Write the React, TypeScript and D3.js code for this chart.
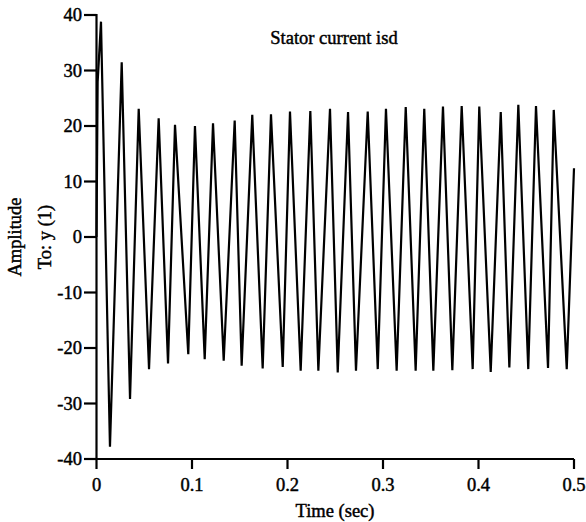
import React from "react";
import * as d3 from "d3";

const peakTimes = [0.0047, 0.0264, 0.0442, 0.0651, 0.0822, 0.1031, 0.122, 0.1447, 0.1631, 0.1827, 0.2026, 0.2239, 0.2445, 0.2634, 0.284, 0.3031, 0.3238, 0.3432, 0.3628, 0.3824, 0.4008, 0.4233, 0.4417, 0.4602, 0.4788];
const peakValues = [38.8, 31.5, 23.1, 21.4, 20.2, 20.0, 20.5, 21.0, 22.0, 22.1, 22.6, 22.7, 23.1, 22.5, 22.6, 23.1, 23.4, 23.1, 23.5, 23.6, 23.5, 22.5, 23.8, 23.6, 22.9];
const troughTimes = [0.0141, 0.0351, 0.055, 0.0749, 0.0961, 0.1133, 0.1332, 0.152, 0.174, 0.195, 0.2138, 0.2323, 0.2526, 0.2717, 0.2945, 0.3143, 0.3342, 0.3527, 0.3726, 0.3939, 0.4128, 0.4323, 0.4521, 0.4728, 0.4924];
const troughValues = [-37.8, -29.2, -23.8, -22.8, -21.1, -22.0, -22.3, -23.2, -23.7, -23.4, -24.1, -24.1, -24.4, -24.1, -23.8, -24.1, -24.1, -24.1, -24.0, -23.8, -24.3, -23.5, -23.8, -23.6, -23.8];
const startPoints: [number, number][] = [[0, 0], [0.0012, 28]];
const endPoint: [number, number] = [0.5, 12.4];

const xTicks = [0, 0.1, 0.2, 0.3, 0.4, 0.5];
const yTicks = [-40, -30, -20, -10, 0, 10, 20, 30, 40];

const title = "Stator current isd";
const xLabel = "Time (sec)";
const yLabel1 = "Amplitude";
const yLabel2 = "To: y (1)";

export default function App() {
  const W = 586, H = 522;
  const x0 = 96.5, x1 = 574, y0 = 459, y1 = 15;
  const x = d3.scaleLinear().domain([0, 0.5]).range([x0, x1]);
  const y = d3.scaleLinear().domain([-40, 40]).range([y0, y1]);

  const pts: [number, number][] = [...startPoints];
  for (let i = 0; i < peakTimes.length; i++) {
    pts.push([peakTimes[i], peakValues[i]]);
    pts.push([troughTimes[i], troughValues[i]]);
  }
  pts.push(endPoint);
  const line = d3.line<[number, number]>().x(d => x(d[0])).y(d => y(d[1]));

  const font = "'Liberation Serif', 'Times New Roman', serif";
  const textStyle = { stroke: "#000", strokeWidth: 0.45 };
  return (
    <svg width={W} height={H} style={{ position: "absolute", left: 0, top: 0 }} fontFamily={font}>
      <rect width={W} height={H} fill="#fff" />
      <path d={line(pts) || ""} fill="none" stroke="#000" strokeWidth={2.2} strokeLinejoin="miter" />
      <line x1={x0} x2={x0} y1={y1 - 1} y2={y0} stroke="#000" strokeWidth={2.2} />
      <line x1={x0} x2={x1} y1={y0} y2={y0} stroke="#000" strokeWidth={2.2} />
      {yTicks.map(t => (
        <g key={"y" + t}>
          <line x1={84} x2={x0} y1={y(t)} y2={y(t)} stroke="#000" strokeWidth={2.2} />
          <text x={82} y={y(t)} dy="0.35em" textAnchor="end" fontSize={18.5} style={textStyle}>{t}</text>
        </g>
      ))}
      {xTicks.map(t => (
        <g key={"x" + t}>
          <line x1={x(t)} x2={x(t)} y1={y0} y2={469} stroke="#000" strokeWidth={2.2} />
          <text x={x(t)} y={491} textAnchor="middle" fontSize={18.5} style={textStyle}>{t}</text>
        </g>
      ))}
      <text x={334} y={44} textAnchor="middle" fontSize={18.5} style={textStyle}>{title}</text>
      <text x={335} y={517} textAnchor="middle" fontSize={18.5} style={textStyle}>{xLabel}</text>
      <text transform="translate(21,237) rotate(-90)" textAnchor="middle" fontSize={18.5} style={textStyle}>{yLabel1}</text>
      <text transform="translate(51,237) rotate(-90)" textAnchor="middle" fontSize={18.5} style={textStyle}>{yLabel2}</text>
    </svg>
  );
}
